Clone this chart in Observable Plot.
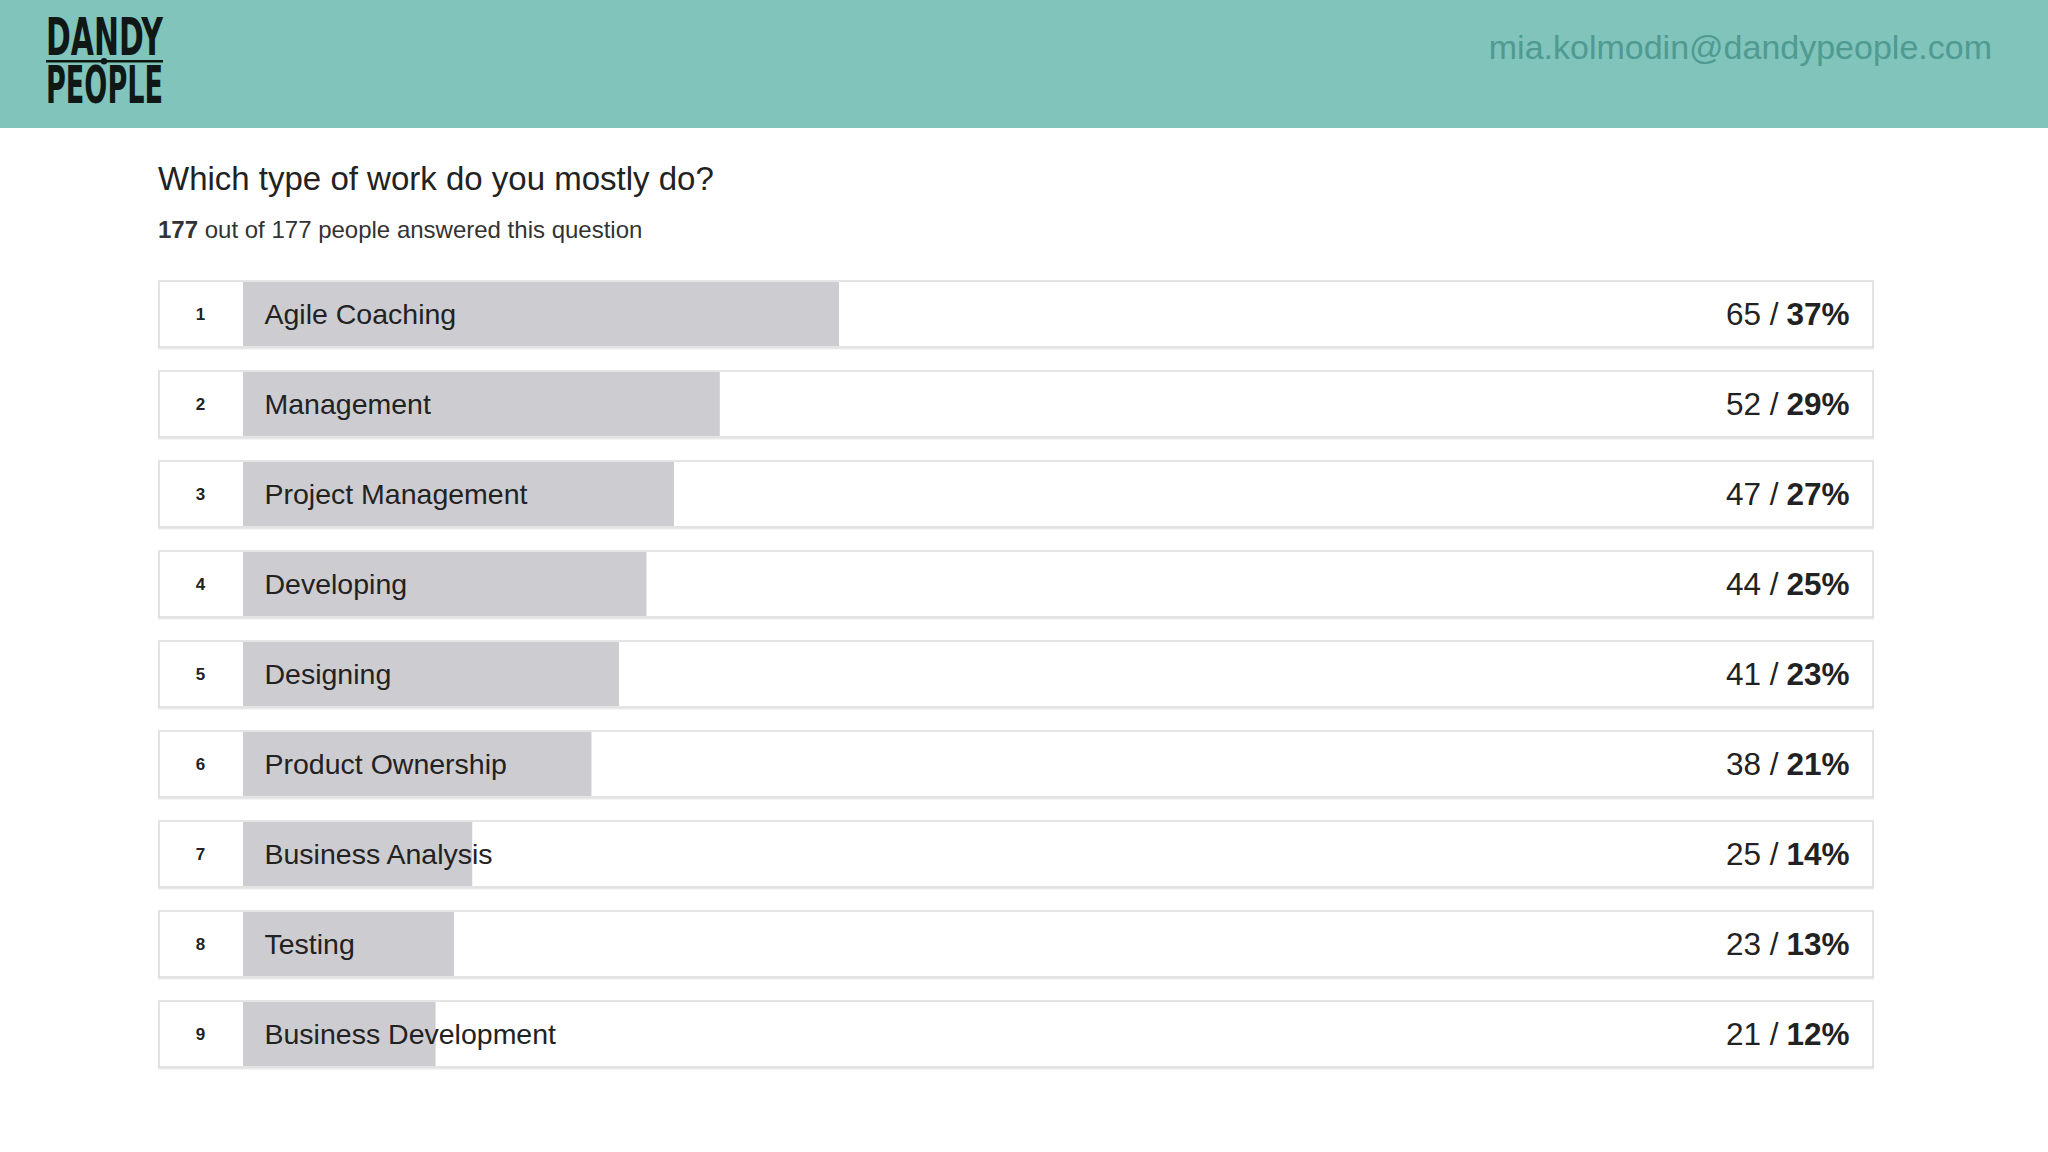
<!DOCTYPE html>
<html>
<head>
<meta charset="utf-8">
<script src="https://cdn.jsdelivr.net/npm/d3@7"></script>
<script src="https://cdn.jsdelivr.net/npm/@observablehq/plot@0.6"></script>
<style>
  html, body { margin: 0; padding: 0; background: #fff; }
  body { width: 2048px; height: 1152px; overflow: hidden; position: relative; font-family: "Liberation Sans", Arial, sans-serif; }
  #header { position: absolute; left: 0; top: 0; width: 2048px; height: 128px; background: #80c4bb; }
  #logo { position: absolute; left: 0; top: 0; }
  #email { position: absolute; right: 56px; top: 28px; font-size: 34px; color: #4f9a91; font-family: "Liberation Sans", Arial, sans-serif; }
  #title { position: absolute; left: 158px; top: 160px; font-size: 33px; color: #222; }
  #subtitle { position: absolute; left: 158px; top: 216px; font-size: 24px; color: #333; }
  #chart { position: absolute; left: 0; top: 250px; }
</style>
</head>
<body>
<div id="header">
  <svg id="logo" width="200" height="128">
    <g fill="#101816" font-family="DejaVu Sans Condensed, DejaVu Sans, sans-serif" font-weight="bold" font-size="51">
      <text x="46" y="55" textLength="117" lengthAdjust="spacingAndGlyphs">DANDY</text>
      <rect x="46" y="60" width="117" height="2.5"></rect>
      <circle cx="104" cy="61.2" r="3.2"></circle>
      <text x="46" y="103" textLength="117" lengthAdjust="spacingAndGlyphs">PEOPLE</text>
    </g>
  </svg>
  <div id="email">mia.kolmodin@dandypeople.com</div>
</div>
<div id="title">Which type of work do you mostly do?</div>
<div id="subtitle"><b>177</b> out of 177 people answered this question</div>
<div id="chart"></div>
<script>
const categories = ["Agile Coaching", "Management", "Project Management", "Developing", "Designing", "Product Ownership", "Business Analysis", "Testing", "Business Development"];
const counts = [65, 52, 47, 44, 41, 38, 25, 23, 21];
const percents = [37, 29, 27, 25, 23, 21, 14, 13, 12];
const total = 177;

const data = categories.map((c, i) => ({
  rank: i + 1,
  category: c,
  count: counts[i],
  pct: percents[i]
}));

const font = "Liberation Sans, Arial, sans-serif";

const plot = Plot.plot({
  width: 2048,
  height: 902,
  marginLeft: 159,
  marginRight: 175,
  marginTop: 0,
  marginBottom: 0,
  style: { fontFamily: font, background: "transparent" },
  x: { domain: [0, total], range: [243, 1866], axis: null },
  y: { domain: categories, range: [7, 841], padding: 0.267, round: false, axis: null },
  marks: [
    Plot.cell(data, { y: "category", fill: "#fff", stroke: "#dadada", strokeWidth: 2, dy: 1.5, strokeOpacity: 0.6 }),
    Plot.cell(data, { y: "category", fill: "#fff", stroke: "#dcdcdc", strokeWidth: 1.5 }),
    Plot.barX(data, { x: "count", y: "category", fill: "#cdccd0", insetTop: 1, insetBottom: 1 }),
    Plot.text(data, { y: "category", text: d => String(d.rank), frameAnchor: "left", dx: 41, textAnchor: "middle", fontSize: 17, fontWeight: "bold", fill: "#222" }),
    Plot.text(data, { y: "category", text: "category", frameAnchor: "left", dx: 105, textAnchor: "start", fontSize: 28.5, fill: "#222" }),
    Plot.text(data, { y: "category", text: d => d.pct + "%", frameAnchor: "right", dx: -24, textAnchor: "end", fontSize: 31.5, fontWeight: "bold", fill: "#222" }),
    Plot.text(data, { y: "category", text: d => d.count + " /", frameAnchor: "right", dx: -95, textAnchor: "end", fontSize: 31.5, fill: "#222" })
  ]
});
document.getElementById("chart").appendChild(plot);
</script>
</body>
</html>
